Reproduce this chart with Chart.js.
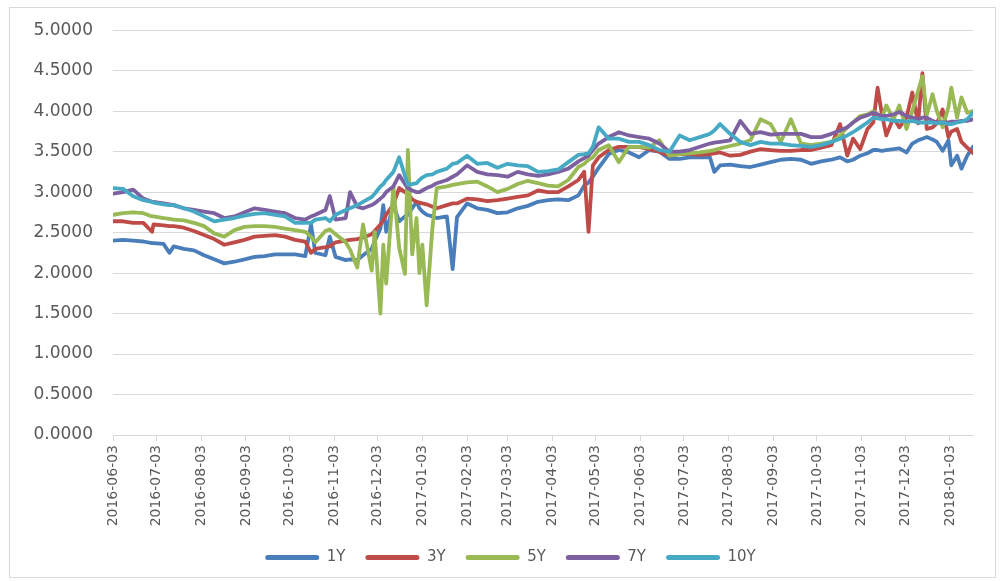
<!DOCTYPE html>
<html>
<head>
<meta charset="utf-8">
<script src="https://cdn.jsdelivr.net/npm/chart.js@4.4.1/dist/chart.umd.min.js"></script>
<style>
  html, body { margin: 0; padding: 0; background: #fff; }
  canvas { display: block; }
</style>
</head>
<body>
<canvas id="chart" width="1006" height="581"></canvas>
<script>
const dates = [
  '2016-06-03','2016-06-10','2016-06-17','2016-06-24','2016-06-30','2016-07-01','2016-07-08','2016-07-12','2016-07-15','2016-07-22',
  '2016-07-29','2016-08-05','2016-08-12','2016-08-19','2016-08-26','2016-09-02','2016-09-09','2016-09-16','2016-09-23','2016-09-30',
  '2016-10-07','2016-10-14','2016-10-18','2016-10-21','2016-10-28','2016-10-31','2016-11-04','2016-11-11','2016-11-14','2016-11-19',
  '2016-11-23','2016-11-29','2016-12-01','2016-12-05','2016-12-07','2016-12-09','2016-12-14','2016-12-18','2016-12-22','2016-12-24',
  '2016-12-27','2016-12-30','2017-01-01','2017-01-03','2017-01-06','2017-01-10','2017-01-13','2017-01-20','2017-01-24','2017-01-27',
  '2017-02-03','2017-02-10','2017-02-17','2017-02-24','2017-03-03','2017-03-10','2017-03-17','2017-03-24','2017-03-31','2017-04-07',
  '2017-04-14','2017-04-21','2017-04-25','2017-04-28','2017-05-01','2017-05-05','2017-05-12','2017-05-19','2017-05-26','2017-06-02',
  '2017-06-09','2017-06-16','2017-06-23','2017-06-30','2017-07-07','2017-07-14','2017-07-21','2017-07-24','2017-07-28','2017-08-04',
  '2017-08-11','2017-08-18','2017-08-25','2017-09-01','2017-09-08','2017-09-15','2017-09-22','2017-09-29','2017-10-06','2017-10-13',
  '2017-10-19','2017-10-24','2017-10-28','2017-11-02','2017-11-07','2017-11-11','2017-11-14','2017-11-17','2017-11-20','2017-11-25',
  '2017-11-29','2017-12-04','2017-12-08','2017-12-12','2017-12-15','2017-12-18','2017-12-22','2017-12-25','2017-12-29','2018-01-02',
  '2018-01-04','2018-01-08','2018-01-11','2018-01-15','2018-01-19'
];

const y1 = [
  2.40,2.41,2.40,2.39,2.37,2.37,2.36,2.25,2.33,2.30,
  2.28,2.22,2.17,2.12,2.14,2.17,2.20,2.21,2.23,2.23,
  2.23,2.21,2.60,2.25,2.22,2.45,2.20,2.16,2.17,2.16,
  2.22,2.30,2.39,2.55,2.84,2.51,2.84,2.64,2.70,2.72,
  2.80,2.88,2.80,2.76,2.72,2.70,2.68,2.70,2.05,2.69,
  2.86,2.80,2.78,2.74,2.75,2.80,2.83,2.88,2.90,2.91,
  2.90,2.96,3.08,3.12,3.19,3.30,3.47,3.52,3.49,3.43,
  3.52,3.50,3.41,3.41,3.43,3.43,3.43,3.25,3.33,3.34,
  3.32,3.31,3.34,3.37,3.40,3.41,3.40,3.35,3.38,3.40,
  3.43,3.38,3.40,3.45,3.48,3.52,3.52,3.51,3.52,3.53,
  3.54,3.49,3.60,3.64,3.66,3.68,3.65,3.62,3.51,3.64,
  3.33,3.45,3.29,3.45,3.56
];

const y3 = [
  2.64,2.64,2.62,2.62,2.51,2.60,2.59,2.58,2.58,2.56,
  2.52,2.47,2.42,2.35,2.38,2.41,2.45,2.46,2.47,2.45,
  2.41,2.39,2.25,2.30,2.32,2.33,2.38,2.40,2.41,2.42,
  2.44,2.48,2.52,2.60,2.65,2.72,2.85,3.05,3.00,2.98,
  2.91,2.88,2.87,2.86,2.85,2.82,2.80,2.84,2.86,2.86,
  2.92,2.91,2.89,2.90,2.92,2.94,2.96,3.02,3.00,3.00,
  3.07,3.15,3.25,2.51,3.33,3.43,3.52,3.56,3.56,3.56,
  3.53,3.50,3.45,3.47,3.47,3.46,3.47,3.48,3.49,3.45,
  3.46,3.50,3.53,3.52,3.51,3.51,3.52,3.52,3.55,3.58,
  3.84,3.45,3.66,3.53,3.78,3.86,4.29,3.96,3.70,3.92,
  3.80,3.92,4.23,3.85,4.47,3.78,3.80,3.85,4.02,3.68,
  3.75,3.78,3.62,3.55,3.48
];

const y5 = [
  2.72,2.74,2.75,2.74,2.70,2.70,2.68,2.67,2.66,2.65,
  2.62,2.58,2.49,2.45,2.53,2.57,2.58,2.58,2.57,2.55,
  2.53,2.51,2.45,2.38,2.52,2.54,2.48,2.38,2.29,2.07,
  2.60,2.03,2.51,1.50,2.35,1.87,3.07,2.31,1.99,3.52,
  2.23,2.68,2.00,2.35,1.60,2.56,3.05,3.07,3.09,3.10,
  3.12,3.13,3.07,3.00,3.04,3.10,3.14,3.11,3.08,3.07,
  3.15,3.31,3.35,3.40,3.43,3.52,3.58,3.37,3.56,3.56,
  3.55,3.64,3.45,3.47,3.48,3.49,3.51,3.52,3.54,3.57,
  3.60,3.64,3.90,3.84,3.62,3.90,3.60,3.58,3.60,3.62,
  3.70,3.80,3.86,3.94,3.96,4.00,3.95,3.92,4.07,3.90,
  4.07,3.78,4.00,4.25,4.43,3.95,4.21,4.00,3.80,4.05,
  4.29,3.92,4.17,3.98,4.00
];

const y7 = [
  2.98,3.00,3.03,2.92,2.88,2.88,2.86,2.85,2.84,2.80,
  2.78,2.76,2.74,2.68,2.70,2.75,2.80,2.78,2.76,2.74,
  2.68,2.66,2.70,2.72,2.78,2.95,2.66,2.68,3.00,2.82,
  2.80,2.84,2.86,2.92,2.95,3.00,3.07,3.21,3.10,3.05,
  3.02,3.00,3.00,3.02,3.05,3.08,3.11,3.15,3.19,3.22,
  3.33,3.25,3.22,3.21,3.19,3.25,3.22,3.20,3.22,3.25,
  3.29,3.38,3.42,3.45,3.52,3.60,3.68,3.74,3.70,3.68,
  3.66,3.60,3.50,3.50,3.52,3.56,3.60,3.61,3.62,3.64,
  3.88,3.72,3.74,3.71,3.72,3.72,3.72,3.68,3.68,3.72,
  3.76,3.80,3.86,3.92,3.95,3.98,3.96,3.94,3.94,3.96,
  3.99,3.94,3.92,3.90,3.92,3.92,3.88,3.86,3.86,3.86,
  3.87,3.87,3.88,3.88,3.90
];

const y10 = [
  3.05,3.04,2.95,2.90,2.88,2.87,2.85,2.84,2.84,2.80,
  2.76,2.70,2.64,2.66,2.68,2.71,2.73,2.74,2.72,2.70,
  2.62,2.62,2.62,2.66,2.68,2.64,2.72,2.78,2.80,2.84,
  2.88,2.94,2.98,3.07,3.10,3.15,3.25,3.43,3.20,3.09,
  3.10,3.11,3.15,3.18,3.21,3.22,3.25,3.29,3.35,3.36,
  3.45,3.35,3.36,3.30,3.35,3.33,3.32,3.25,3.26,3.28,
  3.37,3.46,3.47,3.48,3.56,3.80,3.66,3.66,3.62,3.62,
  3.58,3.52,3.50,3.70,3.64,3.68,3.72,3.76,3.84,3.72,
  3.62,3.58,3.62,3.60,3.60,3.58,3.57,3.56,3.58,3.62,
  3.66,3.70,3.74,3.80,3.86,3.92,3.91,3.90,3.90,3.88,
  3.88,3.87,3.88,3.86,3.86,3.86,3.86,3.85,3.86,3.84,
  3.84,3.86,3.87,3.90,3.98
];

const tickLabels = [
  '2016-06-03','2016-07-03','2016-08-03','2016-09-03','2016-10-03','2016-11-03','2016-12-03',
  '2017-01-03','2017-02-03','2017-03-03','2017-04-03','2017-05-03','2017-06-03','2017-07-03',
  '2017-08-03','2017-09-03','2017-10-03','2017-11-03','2017-12-03','2018-01-03'
];

const seriesNames = ['1Y', '3Y', '5Y', '7Y', '10Y'];
const seriesValues = [y1, y3, y5, y7, y10];
const seriesColors = ['#4a7ebb', '#be4b48', '#98b954', '#7d60a0', '#46aac5'];

// dates -> day offset from the first date, so the x axis behaves like a date axis
const DAY = 86400000;
const start = Date.parse(dates[0]);
const toDay = s => (Date.parse(s) - start) / DAY;
const tickDays = tickLabels.map(toDay);
const lastDay = toDay(dates[dates.length - 1]);

const datasets = seriesNames.map((name, i) => ({
  label: name,
  data: dates.map((d, j) => ({x: toDay(d), y: seriesValues[i][j]})),
  borderColor: seriesColors[i],
  backgroundColor: seriesColors[i],
  borderWidth: 3.8,
  pointRadius: 0,
  tension: 0,
  borderJoinStyle: 'round',
  borderCapStyle: 'round',
  order: seriesNames.length - 1 - i
}));

const frame = {
  id: 'frame',
  beforeDraw(chart) {
    const ctx = chart.ctx;
    ctx.save();
    ctx.strokeStyle = '#d9d9d9';
    ctx.lineWidth = 1;
    ctx.strokeRect(9.5, 7.5, 986, 570);
    ctx.restore();
  },
  // the legend in the original sits a bit right of the canvas centre
  afterLayout(chart) {
    if (chart.legend) {
      chart.legend.left += 24;
      chart.legend.right += 24;
    }
  }
};

const fontFamily = "'DejaVu Sans', sans-serif";

new Chart(document.getElementById('chart'), {
  type: 'line',
  data: {datasets: datasets},
  plugins: [frame],
  options: {
    responsive: false,
    animation: false,
    layout: {padding: {top: 27, right: 33, bottom: 6, left: 0}},
    plugins: {
      tooltip: {enabled: false},
      legend: {
        position: 'bottom',
        labels: {
          color: '#595959',
          font: {family: fontFamily, size: 15},
          boxWidth: 54,
          boxHeight: 5,
          padding: 20,
          sort: (a, b) => a.datasetIndex - b.datasetIndex,
          generateLabels(chart) {
            return chart.data.datasets.map((ds, i) => ({
              text: ds.label,
              fillStyle: ds.borderColor,
              strokeStyle: ds.borderColor,
              lineWidth: 0,
              borderRadius: 2.5,
              fontColor: '#595959',
              hidden: false,
              datasetIndex: i
            }));
          }
        }
      }
    },
    scales: {
      x: {
        type: 'linear',
        min: 0,
        max: lastDay,
        afterFit(scale) { scale.height = 95; },
        afterBuildTicks(scale) {
          scale.ticks = tickDays.map(v => ({value: v}));
        },
        ticks: {
          autoSkip: false,
          minRotation: 90,
          maxRotation: 90,
          color: '#595959',
          font: {family: fontFamily, size: 14},
          padding: 4,
          callback: (v) => {
            const i = tickDays.indexOf(v);
            return i >= 0 ? tickLabels[i] : '';
          }
        },
        grid: {
          display: true,
          drawOnChartArea: false,
          drawTicks: true,
          tickLength: 6,
          color: '#d9d9d9'
        },
        border: {display: true, color: '#d9d9d9'}
      },
      y: {
        min: 0,
        max: 5,
        afterFit(scale) { scale.width = 113; },
        ticks: {
          stepSize: 0.5,
          color: '#595959',
          font: {family: fontFamily, size: 17},
          padding: 20,
          callback: v => v.toFixed(4)
        },
        grid: {color: '#d9d9d9', drawTicks: false},
        border: {display: false}
      }
    }
  }
});
</script>
</body>
</html>
